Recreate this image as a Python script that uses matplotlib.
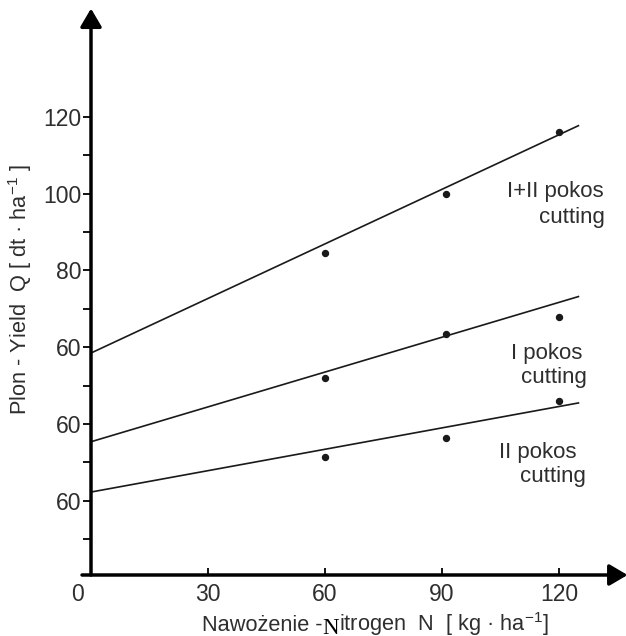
import numpy as np
import matplotlib.pyplot as plt

plt.rcParams['font.family'] = ['Liberation Sans', 'DejaVu Sans']
plt.rcParams['mathtext.fontset'] = 'custom'
plt.rcParams['mathtext.rm'] = 'Liberation Sans'

# measured points (nitrogen dose vs yield)
nitrogen = [60, 91, 120]
yield_total = [84.6, 99.9, 116.1]
yield_first = [52.0, 63.5, 67.9]
yield_second = [31.5, 36.4, 46.0]

# fitted lines, start and end
line_x = [0, 125]
line_total = [58.5, 117.7]
line_first = [35.4, 73.2]
line_second = [22.3, 45.5]

x_ticks = [30, 60, 90, 120]
y_ticks = [20, 40, 60, 80, 100, 120]
y_ticklabels = ['60', '60', '60', '80', '100', '120']
y_minor = [10, 30, 50, 70, 90, 110]

# series labels: (text, x, baseline y)
series_labels = [
    ('I+II pokos', 131.5, 99.2), ('cutting', 131.8, 92.4),
    ('I pokos', 125.9, 57.0), ('cutting', 127.2, 50.7),
    ('II pokos', 124.6, 31.2), ('cutting', 126.9, 24.9),
]

txt_col = '#2e2e2e'

fig = plt.figure(figsize=(6.26, 6.36), dpi=100)
ax = fig.add_axes([91/626, 61/636, (626-91)/626, (575-12)/636])
ax.set_xlim(0, 137.2)
ax.set_ylim(0.7, 147.3)
for s in ax.spines.values():
    s.set_visible(False)

# axes with arrows
arrow = dict(arrowstyle='-|>,head_length=0.85,head_width=0.5', lw=2.5,
             color='k', shrinkA=0, shrinkB=0, mutation_scale=13)
ax.annotate('', xy=(137.6, 0.7), xytext=(-2.3, 0.7), arrowprops=arrow,
            annotation_clip=False)
ax.annotate('', xy=(0, 148.2), xytext=(0, 0.7), arrowprops=arrow,
            annotation_clip=False)

# lines and points
for ys, pts in [(line_total, yield_total), (line_first, yield_first),
                (line_second, yield_second)]:
    ax.plot(line_x, ys, color='#1a1a1a', lw=1.2)
    ax.plot(nitrogen, pts, 'o', color='#1a1a1a', ms=4.3)

for txt, x, y in series_labels:
    ax.text(x, y, txt, ha='right', va='baseline', fontsize=16, color=txt_col)

ax.set_xticks(x_ticks)
ax.set_xticklabels([str(v) for v in x_ticks])
ax.set_yticks(y_ticks)
ax.set_yticklabels(y_ticklabels)
ax.set_yticks(y_minor, minor=True)
ax.tick_params(axis='y', which='both', direction='out', length=6, width=1.3,
               pad=1, labelsize=16.5, labelcolor=txt_col)
ax.tick_params(axis='x', which='both', direction='in', length=5, width=1.3,
               pad=6, labelsize=16.5, labelcolor=txt_col)
ax.annotate('0', xy=(0, 0.7), xytext=(-10, -6), textcoords='offset points',
            ha='center', va='top', fontsize=16.5, color=txt_col,
            annotation_clip=False)

fig.text(20/626, 1 - 290/636, 'Plon - Yield  Q [ dt · ha$^{\\mathregular{-1}}$ ]',
         rotation=90, ha='center', va='center', fontsize=15.7, color=txt_col)

base_y = 1 - 631/636
t1 = fig.text(202/626, base_y, 'Nawożenie -', ha='left', va='baseline',
              fontsize=15.7, color=txt_col)
t2 = ax.annotate('N', xy=(1, 0), xycoords=t1, xytext=(0, -2.5),
                 textcoords='offset points', ha='left', va='bottom',
                 fontsize=16.5, family='Liberation Serif', color='k',
                 annotation_clip=False)
ax.annotate('itrogen  N  [ kg · ha$^{\\mathregular{-1}}$]', xy=(1, base_y),
            xycoords=(t2, 'figure fraction'), ha='left', va='baseline',
            fontsize=15.7, color=txt_col, annotation_clip=False)

fig.savefig('out.png', dpi=100)
